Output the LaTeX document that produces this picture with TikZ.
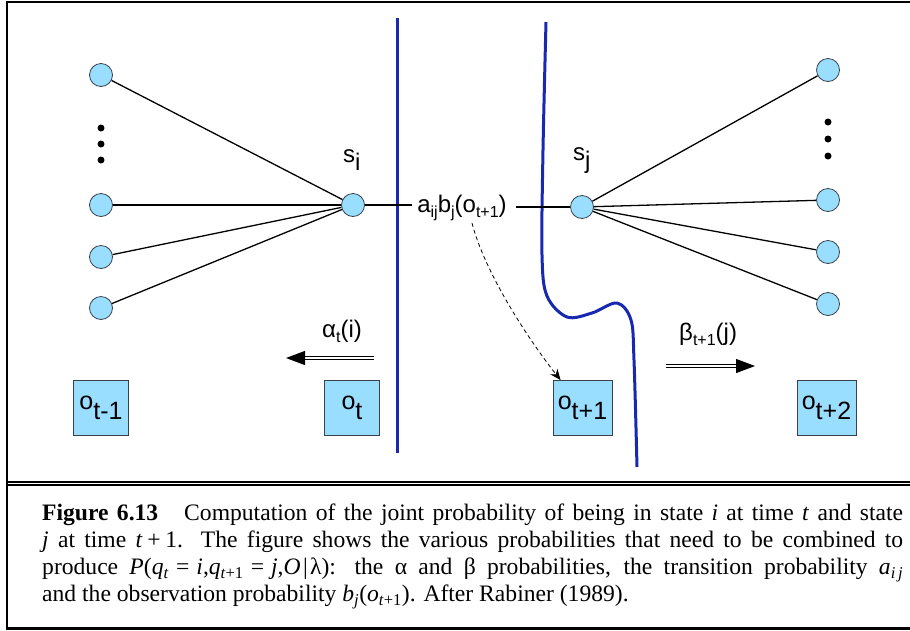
\documentclass[tikz,border=0pt]{standalone}
\usepackage{fontspec}
\setmainfont{Liberation Serif}
\newfontfamily\labfont{Liberation Sans}
\usetikzlibrary{arrows.meta}
\definecolor{nodeblue}{RGB}{153,221,255}
\definecolor{lineblue}{RGB}{24,40,176}
\definecolor{edgegray}{RGB}{55,65,75}
\newcommand\lsub[1]{\raisebox{-5pt}{\fontsize{16}{16}\selectfont #1}}
\newcommand\dsub[2]{\raisebox{-#1pt}{#2}}
\newcommand\vi[1]{\textit{#1}}
\newcommand\csub[1]{\textsubscript{#1}}
\newcommand\eqs{\hspace{0.3em}=\hspace{0.3em}}
\begin{document}
\begin{tikzpicture}[x=1pt,y=-1pt,
  state/.style={circle, draw=edgegray, fill=nodeblue, minimum size=23pt, inner sep=0pt, line width=0.8pt},
  obs/.style={rectangle, draw=edgegray, fill=nodeblue, minimum width=55pt, minimum height=55pt, inner sep=0pt, line width=0.8pt, font=\labfont\fontsize{25}{27}\selectfont},
  dotnode/.style={circle, fill=black, minimum size=7pt, inner sep=0pt},
  edge/.style={line width=1.3pt},
  lbl/.style={inner sep=0pt, font=\labfont\fontsize{24}{26}\selectfont},
  blueline/.style={draw=lineblue, line width=3pt},
  dblarrow/.style={double, double distance=2.2pt, line width=1.1pt, -{Triangle[length=19pt,width=14pt]}},
  dasharrow/.style={line width=0.8pt, dash pattern=on 4pt off 3pt, -{Stealth[length=11pt,width=9pt]}},
  frame/.style={line width=2.2pt}
]
\useasboundingbox (0,0) rectangle (910,630);
\fill[white] (0,0) rectangle (910,630);

% frame
\draw[frame] (7,2) rectangle (916,628.5);
\draw[line width=2pt] (7,481.8) -- (916,481.8);
\draw[line width=2pt] (7,485.3) -- (916,485.3);

% separators
\draw[blueline] (397,18) -- (397,453);
\draw[blueline] plot[smooth, tension=0.55] coordinates {(546,22) (543,150) (542,255) (547,296) (567,317) (592,313) (617,303) (631,320) (634,360) (637,467)};

% left states
\node[state] (l1) at (101,75) {};
\node[state] (l2) at (101,205) {};
\node[state] (l3) at (101,257) {};
\node[state] (l4) at (101,308) {};
\node[dotnode] (ld1) at (101,128) {};
\node[dotnode] (ld2) at (101,144) {};
\node[dotnode] (ld3) at (101,160) {};

% right states
\node[state] (r1) at (828,70) {};
\node[state] (r2) at (828,200) {};
\node[state] (r3) at (828,252) {};
\node[state] (r4) at (828,304) {};
\node[dotnode] (rd1) at (828,122) {};
\node[dotnode] (rd2) at (828,139) {};
\node[dotnode] (rd3) at (828,156) {};

% central states
\node[state] (si) at (353,205) {};
\node[state] (sj) at (582,207) {};

\foreach \n in {l1,l2,l3,l4} \draw[edge] (si) -- (\n);
\foreach \n in {r1,r2,r3,r4} \draw[edge] (sj) -- (\n);

% labels
\node[lbl, anchor=base west] (silab) at (343,162) {s\dsub{8}{i}};
\node[lbl, anchor=base west] (sjlab) at (573,160) {s\dsub{8}{j}};
\node[lbl, anchor=base] (ab) at (462,212) {a\lsub{ij}b\lsub{j}(o\lsub{t+1})};
\draw[edge] (si) -- ([xshift=-5pt]ab.west |- si);
\draw[edge] ([xshift=9pt]ab.east |- sj) -- (sj);

% observations
\node[obs] (o0) at (101,408) {o\dsub{10}{t-1}};
\node[obs] (o1) at (352,408) {o\dsub{10}{t}};
\node[obs, minimum width=59pt] (o2) at (582.5,408) {o\dsub{10}{t+1}};
\node[obs, minimum width=59pt] (o3) at (826.5,408) {o\dsub{10}{t+2}};

% dashed arrow
\coordinate (dstart) at (472,223);
\draw[dasharrow] (dstart) .. controls (484,270) and (525,335) .. ([xshift=8pt]o2.north west);

% alpha / beta
\node[lbl, anchor=base west] (alab) at (322,337) {α\lsub{t}(i)};
\node[lbl, anchor=base west] (blab) at (679,340) {β\lsub{t+1}(j)};
\coordinate (aS) at (374,358);
\coordinate (aE) at (286,358);
\draw[dblarrow] (aS) -- (aE);
\coordinate (bS) at (666,366);
\coordinate (bE) at (755,366);
\draw[dblarrow] (bS) -- (bE);

% caption
\node[anchor=north west, text width=861pt, inner sep=0pt, align=justify,
      font=\fontsize{23.6}{27}\selectfont] (cap) at (42,504)
{\textbf{Figure 6.13}\hspace{1.1em}Computation of the joint probability of being in state \vi{i} at time \vi{t} and state\linebreak
\vi{j} at time \vi{t}\hspace{0.2em}+\hspace{0.2em}1. The figure shows the various probabilities that need to be combined to\linebreak
produce \vi{P}(\vi{q}\csub{\vi{t}}\eqs\vi{i},\vi{q}\csub{\vi{t}+1}\eqs\vi{j},\vi{O}\hspace{0.1em}|\hspace{0.1em}λ): the α and β probabilities, the transition probability \vi{a}\csub{\vi{i\,j}}\linebreak
and the observation probability \vi{b}\csub{\vi{j}}(\vi{o}\csub{\vi{t}+1}). After Rabiner (1989).};
\end{tikzpicture}
\end{document}
